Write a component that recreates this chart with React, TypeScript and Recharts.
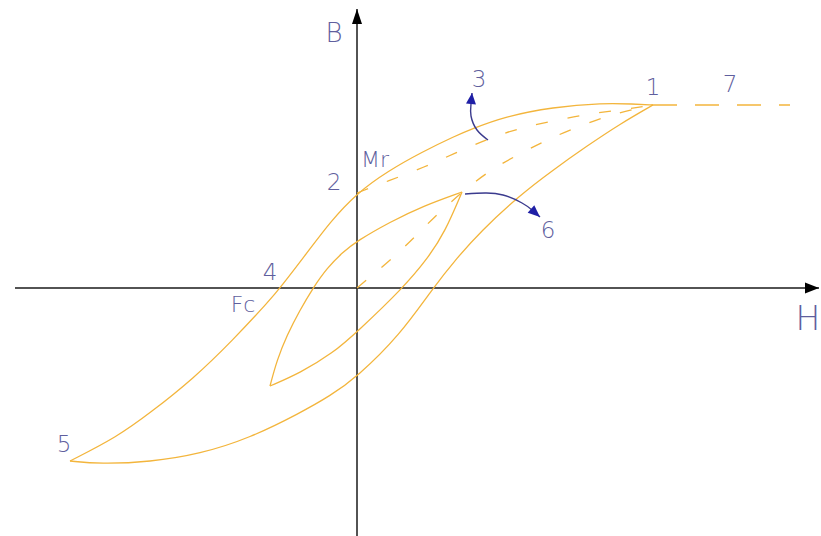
import React from 'react';
import { ComposedChart, Line, Scatter, XAxis, YAxis } from 'recharts';

type Pt = { h: number; b: number };
type Tag = { h: number; b: number; text: string; size: number };

// Major loop, descending branch (from saturation point 1 through Mr and Fc to point 5)
const majorDescending: Pt[] = [
  { h: -287, b: -173 },
  { h: -240, b: -149 },
  { h: -207, b: -125 },
  { h: -164, b: -91 },
  { h: -124, b: -52 },
  { h: -87, b: -12 },
  { h: -77, b: 0 },
  { h: -50, b: 35 },
  { h: -27, b: 66 },
  { h: 0, b: 95 },
  { h: 31, b: 117 },
  { h: 65, b: 136 },
  { h: 98, b: 152 },
  { h: 115, b: 159 },
  { h: 146, b: 171 },
  { h: 196, b: 181 },
  { h: 246, b: 185 },
  { h: 276, b: 184 },
  { h: 296, b: 183 },
];

// Major loop, ascending branch (from point 5 back up to point 1)
const majorAscending: Pt[] = [
  { h: -287, b: -173 },
  { h: -257, b: -176 },
  { h: -207, b: -174 },
  { h: -157, b: -166 },
  { h: -107, b: -150 },
  { h: -57, b: -125 },
  { h: -27, b: -108 },
  { h: 0, b: -89 },
  { h: 43, b: -47 },
  { h: 76, b: 0 },
  { h: 100, b: 30 },
  { h: 123, b: 56 },
  { h: 163, b: 93 },
  { h: 196, b: 118 },
  { h: 230, b: 142 },
  { h: 263, b: 164 },
  { h: 296, b: 183 },
];

// Minor loop, upper branch
const minorUpper: Pt[] = [
  { h: -87, b: -98 },
  { h: -80, b: -72 },
  { h: -70, b: -47 },
  { h: -57, b: -22 },
  { h: -44, b: 0 },
  { h: -30, b: 20 },
  { h: -14, b: 36 },
  { h: 0, b: 47 },
  { h: 33, b: 66 },
  { h: 66, b: 82 },
  { h: 105, b: 96 },
];

// Minor loop, lower branch
const minorLower: Pt[] = [
  { h: -87, b: -98 },
  { h: -57, b: -85 },
  { h: -24, b: -65 },
  { h: 0, b: -44 },
  { h: 46, b: 0 },
  { h: 71, b: 30 },
  { h: 88, b: 56 },
  { h: 105, b: 96 },
];

// Recoil path from remanence (2) back to saturation (1)
const recoilFromMr: Pt[] = [
  { h: 0, b: 95 },
  { h: 31, b: 107 },
  { h: 68, b: 121 },
  { h: 98, b: 135 },
  { h: 133, b: 150 },
  { h: 163, b: 160 },
  { h: 196, b: 167 },
  { h: 230, b: 174 },
  { h: 263, b: 178 },
  { h: 296, b: 183 },
];

// Initial magnetisation curve from the origin to saturation
const initialCurve: Pt[] = [
  { h: 0, b: 0 },
  { h: 30, b: 25 },
  { h: 53, b: 46 },
  { h: 76, b: 70 },
  { h: 105, b: 96 },
  { h: 133, b: 118 },
  { h: 166, b: 136 },
  { h: 196, b: 151 },
  { h: 230, b: 165 },
  { h: 260, b: 175 },
  { h: 296, b: 183 },
];

// Saturation plateau beyond point 1 (towards 7)
const plateau: Pt[] = [
  { h: 296, b: 183 },
  { h: 433, b: 183 },
];

// Direction arrows
const arrowThree: Pt[] = [
  { h: 131, b: 148 },
  { h: 120, b: 158 },
  { h: 114, b: 172 },
  { h: 114, b: 184 },
  { h: 115, b: 195 },
];

const arrowSix: Pt[] = [
  { h: 108, b: 94 },
  { h: 128, b: 95 },
  { h: 146, b: 93 },
  { h: 165, b: 85 },
  { h: 175, b: 78 },
  { h: 183, b: 71 },
];

// Coordinate axes
const hAxis: Pt[] = [
  { h: -342, b: 0 },
  { h: 462, b: 0 },
];
const bAxis: Pt[] = [
  { h: 0, b: -248 },
  { h: 0, b: 279 },
];

const tags: Tag[] = [
  { h: -23, b: 246, text: 'B', size: 26 },
  { h: 451, b: -42, text: 'H', size: 33 },
  { h: 18, b: 121, text: 'Mr', size: 22 },
  { h: -23, b: 98, text: '2', size: 23 },
  { h: 122, b: 201, text: '3', size: 23 },
  { h: 296, b: 193, text: '1', size: 23 },
  { h: 373, b: 196, text: '7', size: 23 },
  { h: 191, b: 50, text: '6', size: 23 },
  { h: -87, b: 8, text: '4', size: 23 },
  { h: -114, b: -24, text: 'Fc', size: 22 },
  { h: -293, b: -164, text: '5', size: 23 },
];

const CURVE = '#f3b53c';
const ARROW = '#3b3b8e';
const ARROW_HEAD = '#1f1fa6';
const TEXT = '#5f5f9e';
const AXIS = '#1a1a1a';

// Draws a filled arrowhead at the last point of a path, aimed along its final segment.
function headAtEnd(points: Pt[], color: string, len: number, half: number) {
  return (props: any) => {
    const { cx, cy, index } = props;
    if (index !== points.length - 1 || cx == null || cy == null) {
      return <g key={`n-${index}`} />;
    }
    const p0 = points[index - 1];
    const p1 = points[index];
    let dx = p1.h - p0.h;
    let dy = -(p1.b - p0.b);
    const n = Math.hypot(dx, dy) || 1;
    dx /= n;
    dy /= n;
    const bx = cx - dx * len;
    const by = cy - dy * len;
    const px = -dy * half;
    const py = dx * half;
    return (
      <polygon
        key={`h-${index}`}
        points={`${cx},${cy} ${bx + px},${by + py} ${bx - px},${by - py}`}
        fill={color}
        stroke="none"
      />
    );
  };
}

const renderTag = (props: any) => {
  const { cx, cy, payload } = props;
  return (
    <text
      x={cx}
      y={cy}
      textAnchor="middle"
      fill={TEXT}
      fontSize={payload.size}
      fontFamily="'DejaVu Sans', 'Liberation Sans', sans-serif"
      fontWeight={200}
    >
      {payload.text}
    </text>
  );
};

export default function App() {
  const solid = { stroke: CURVE, strokeWidth: 1.3, dot: false, activeDot: false, isAnimationActive: false, type: 'basis' as const };
  const dashed = { ...solid, strokeDasharray: '12 20' };
  return (
    <div style={{ position: 'absolute', left: 0, top: 0, width: 821, height: 536, background: '#ffffff' }}>
      <ComposedChart width={821} height={536} margin={{ top: 0, right: 0, bottom: 0, left: 0 }}>
        <XAxis type="number" dataKey="h" domain={[-357, 464]} hide allowDataOverflow />
        <YAxis type="number" dataKey="b" domain={[-248, 288]} hide allowDataOverflow />

        <Line data={hAxis} dataKey="b" stroke={AXIS} strokeWidth={1.5} type="linear" isAnimationActive={false} activeDot={false} dot={headAtEnd(hAxis, '#000000', 14, 5.5)} />
        <Line data={bAxis} dataKey="b" stroke={AXIS} strokeWidth={1.5} type="linear" isAnimationActive={false} activeDot={false} dot={headAtEnd(bAxis, '#000000', 15, 5)} />

        <Line data={majorDescending} dataKey="b" {...solid} />
        <Line data={majorAscending} dataKey="b" {...solid} />
        <Line data={minorUpper} dataKey="b" {...solid} />
        <Line data={minorLower} dataKey="b" {...solid} />
        <Line data={recoilFromMr} dataKey="b" {...dashed} />
        <Line data={initialCurve} dataKey="b" {...dashed} />
        <Line data={plateau} dataKey="b" {...solid} type="linear" strokeDasharray="24 18" />

        <Line data={arrowThree} dataKey="b" stroke={ARROW} strokeWidth={1.4} type="natural" isAnimationActive={false} activeDot={false} dot={headAtEnd(arrowThree, ARROW_HEAD, 11, 5)} />
        <Line data={arrowSix} dataKey="b" stroke={ARROW} strokeWidth={1.4} type="natural" isAnimationActive={false} activeDot={false} dot={headAtEnd(arrowSix, ARROW_HEAD, 12, 5)} />

        <Scatter data={tags} dataKey="b" shape={renderTag} isAnimationActive={false} />
      </ComposedChart>
    </div>
  );
}
